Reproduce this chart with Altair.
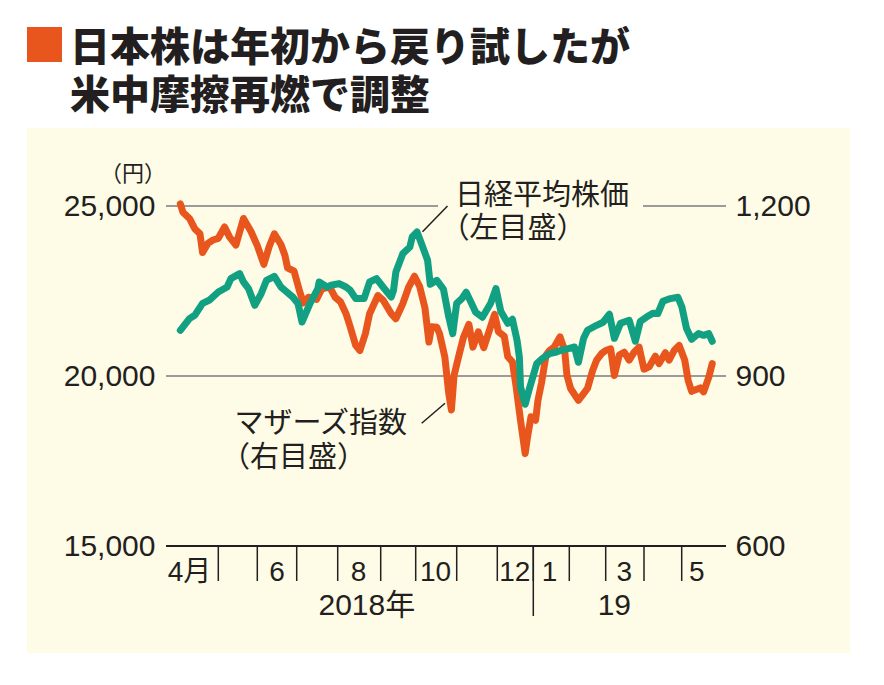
import altair as alt
import pandas as pd

# ---------------- data ----------------
nikkei_dates = [
    "2018-04-02", "2018-04-09", "2018-04-13", "2018-04-19", "2018-04-24", "2018-05-01",
    "2018-05-08", "2018-05-11", "2018-05-18", "2018-05-21", "2018-05-25", "2018-05-30",
    "2018-06-04", "2018-06-08", "2018-06-14", "2018-06-19", "2018-06-22", "2018-06-28",
    "2018-07-02", "2018-07-05", "2018-07-11", "2018-07-17", "2018-07-18", "2018-07-24",
    "2018-07-27", "2018-08-02", "2018-08-07", "2018-08-10", "2018-08-14", "2018-08-20",
    "2018-08-24", "2018-08-29", "2018-09-03", "2018-09-10", "2018-09-12", "2018-09-14",
    "2018-09-20", "2018-09-26", "2018-09-28", "2018-10-02", "2018-10-05", "2018-10-10",
    "2018-10-12", "2018-10-17", "2018-10-22", "2018-10-26", "2018-10-29", "2018-11-01",
    "2018-11-05", "2018-11-08", "2018-11-12", "2018-11-15", "2018-11-20", "2018-11-26",
    "2018-11-30", "2018-12-04", "2018-12-10", "2018-12-14", "2018-12-18", "2018-12-20",
    "2018-12-21", "2018-12-25", "2018-12-28", "2019-01-04", "2019-01-09", "2019-01-15",
    "2019-01-21", "2019-01-25", "2019-02-01", "2019-02-05", "2019-02-08", "2019-02-12",
    "2019-02-15", "2019-02-22", "2019-02-27", "2019-03-04", "2019-03-08", "2019-03-13",
    "2019-03-20", "2019-03-25", "2019-03-29", "2019-04-03", "2019-04-08", "2019-04-12",
    "2019-04-16", "2019-04-22", "2019-04-28", "2019-05-02", "2019-05-09", "2019-05-12",
    "2019-05-16", "2019-05-19", "2019-05-22", "2019-05-24",
]
nikkei_values = [
    21344, 21688, 21785, 22138, 22227, 22471,
    22618, 22865, 23012, 22765, 22571, 22080,
    22424, 22815, 22932, 22618, 22520, 22324,
    22130, 21588, 22130, 22571, 22765, 22618,
    22668, 22718, 22618, 22521, 22277, 22277,
    22765, 22865, 22618, 22324, 22521, 23059,
    23600, 23794, 24088, 24235, 23932, 23403,
    22697, 22815, 22550, 21735, 21247, 22138,
    22285, 22462, 22130, 21874, 21727, 22130,
    22571, 21903, 21550, 21668, 21050, 20559,
    19677, 19168, 19550, 20365, 20521, 20659,
    20706, 20756, 20815, 20853, 20403, 21109,
    21344, 21491, 21580, 21815, 21109, 21550,
    21638, 21021, 21609, 21735, 21844, 21835,
    22197, 22277, 22315, 22030, 21403, 21080,
    21247, 21197, 21247, 21021,
]

mothers_dates = [
    "2018-04-02", "2018-04-04", "2018-04-09", "2018-04-13", "2018-04-17", "2018-04-19",
    "2018-04-23", "2018-04-27", "2018-05-01", "2018-05-06", "2018-05-10", "2018-05-15",
    "2018-05-21", "2018-05-27", "2018-06-01", "2018-06-06", "2018-06-10", "2018-06-14",
    "2018-06-19", "2018-06-22", "2018-06-24", "2018-06-29", "2018-07-03", "2018-07-06",
    "2018-07-10", "2018-07-16", "2018-07-20", "2018-07-26", "2018-07-30", "2018-08-03",
    "2018-08-07", "2018-08-10", "2018-08-14", "2018-08-17", "2018-08-21", "2018-08-24",
    "2018-08-30", "2018-09-03", "2018-09-10", "2018-09-14", "2018-09-20", "2018-09-25",
    "2018-09-30", "2018-10-04", "2018-10-08", "2018-10-11", "2018-10-13", "2018-10-17",
    "2018-10-19", "2018-10-23", "2018-10-26", "2018-10-28", "2018-10-30", "2018-11-03",
    "2018-11-06", "2018-11-10", "2018-11-13", "2018-11-17", "2018-11-21", "2018-11-24",
    "2018-11-29", "2018-12-02", "2018-12-07", "2018-12-10", "2018-12-14", "2018-12-17",
    "2018-12-21", "2018-12-25", "2018-12-27", "2018-12-30", "2019-01-03", "2019-01-05",
    "2019-01-08", "2019-01-12", "2019-01-15", "2019-01-19", "2019-01-24", "2019-01-28",
    "2019-01-30", "2019-02-02", "2019-02-08", "2019-02-12", "2019-02-15", "2019-02-19",
    "2019-02-22", "2019-02-26", "2019-03-01", "2019-03-05", "2019-03-08", "2019-03-12",
    "2019-03-16", "2019-03-20", "2019-03-24", "2019-03-28", "2019-04-01", "2019-04-05",
    "2019-04-10", "2019-04-13", "2019-04-18", "2019-04-21", "2019-04-25", "2019-04-29",
    "2019-05-08", "2019-05-10", "2019-05-12", "2019-05-17", "2019-05-19", "2019-05-22",
    "2019-05-24",
]
mothers_values = [
    1204, 1189, 1178, 1160, 1151, 1118,
    1134, 1140, 1143, 1163, 1145, 1131,
    1178, 1155, 1130, 1097, 1128, 1151,
    1132, 1113, 1091, 1085, 1051, 1029,
    1039, 1035, 1054, 1057, 1039, 1031,
    1010, 987, 954, 945, 975, 1010,
    1042, 1034, 1010, 1001, 1028, 1057,
    1076, 1058, 1020, 960, 987, 986,
    975, 934, 869, 840, 901, 940,
    968, 991, 951, 978, 950, 972,
    1009, 978, 970, 934, 925, 884,
    822, 763, 792, 828, 822, 857,
    887, 937, 945, 951, 969, 945,
    901, 878, 857, 869, 878, 910,
    928, 940, 945, 948, 901, 937,
    942, 928, 942, 951, 912, 916,
    935, 922, 941, 928, 945, 954,
    928, 892, 873, 879, 872, 898,
    922,
]

month_label_dates = ["2018-04-09", "2018-06-16", "2018-08-16", "2018-10-16",
                     "2018-12-16", "2019-01-15", "2019-03-16", "2019-05-15"]
month_labels = ["4月", "6", "8", "10", "12", "1", "3", "5"]
year_label_dates = ["2018-08-22", "2019-03-08"]
year_labels = ["2018年", "19"]
tick_months = ["2018-05-01", "2018-06-01", "2018-07-01", "2018-08-01", "2018-09-01",
               "2018-10-01", "2018-11-01", "2018-12-01", "2019-01-01", "2019-02-01",
               "2019-03-01", "2019-04-01", "2019-05-01"]
year_break = ["2019-01-01"]
left_ticks = [15000, 20000, 25000]
right_ticks = [600, 900, 1200]
grid_values = [20000, 25000]

# the original's time axis runs on trading days: piecewise scale breakpoints
scale_breaks = ["2018-03-22", "2018-04-01", "2018-05-01", "2018-06-01", "2018-07-01",
                "2018-08-01", "2018-09-01", "2018-10-01", "2018-11-01", "2018-12-01",
                "2019-01-01", "2019-02-01", "2019-03-01", "2019-04-01", "2019-05-01",
                "2019-05-07", "2019-06-01"]
scale_pixels = [0, 13, 52.3, 91.3, 130.7, 171.7, 214.7, 249.7, 290.7, 331.3,
                367.3, 403.3, 439.7, 478, 515.7, 517, 560]

# ---------------- styles ----------------
ORANGE = "#E8561E"
GREEN = "#12A083"
PANEL = "#FEFBE6"
INK = "#231F20"
GRID = "#9B9B9B"
CJK = "Noto Sans CJK JP"
LATIN = "Liberation Sans, Noto Sans CJK JP"
W, H = 560, 340
TO_MS = "time(toDate(datum.date))"


def ms(s):
    return int(pd.Timestamp(s).value // 10**6)


xscale = alt.Scale(domain=[ms(s) for s in scale_breaks], range=scale_pixels,
                   nice=False, zero=False)


def xenc():
    return alt.X("t:Q", scale=xscale, axis=None)


one = pd.DataFrame({"k": [0]})

nikkei = pd.DataFrame({"date": nikkei_dates, "value": nikkei_values})
mothers = pd.DataFrame({"date": mothers_dates, "value": mothers_values})


def box(x, x2, y, y2, color):
    return alt.Chart(one).mark_rect(color=color).encode(
        x=alt.value(x), x2=alt.value(x2), y=alt.value(y), y2=alt.value(y2))


def label(txt, x, y, size, weight="normal", align="left", baseline="alphabetic", font=CJK):
    return alt.Chart(one).mark_text(
        text=txt, fontSize=size, fontWeight=weight, align=align, baseline=baseline,
        font=font, color=INK).encode(x=alt.value(x), y=alt.value(y))


def leader(x, y, x2, y2):
    return alt.Chart(one).mark_rule(color=INK, strokeWidth=1.5).encode(
        x=alt.value(x), y=alt.value(y), x2=alt.value(x2), y2=alt.value(y2))


panel = box(-139, 684, -78, 447, PANEL)
square = box(-139, -104, -179, -144, ORANGE)
title1 = label("日本株は年初から戻り試したが", -96, -145, 40, weight=900)
title2 = label("米中摩擦再燃で調整", -96, -96.7, 40, weight=900)
yen = label("（円）", 0, -25.5, 22, align="right")

grid = alt.Chart(pd.DataFrame({"v": grid_values})).mark_rule(
    color=GRID, strokeWidth=2).encode(
    y=alt.Y("v:Q", scale=alt.Scale(domain=[15000, 25000], nice=False), axis=None),
    x=alt.value(0), x2=alt.value(W))
mask = box(272, 477, -5, 5, PANEL)

orange_line = alt.Chart(mothers).transform_calculate(t=TO_MS).mark_line(
    color=ORANGE, strokeWidth=7, strokeJoin="round", strokeCap="round").encode(
    x=xenc(),
    y=alt.Y("value:Q", scale=alt.Scale(domain=[600, 1200], nice=False, zero=False),
            axis=alt.Axis(orient="right", values=right_ticks, format=",.0f", title=None,
                          grid=False, ticks=False, domain=False, labelPadding=9,
                          labelFont=LATIN, labelFontSize=30, labelColor=INK,
                          labelAlign="left", zindex=1)))

green_line = alt.Chart(nikkei).transform_calculate(t=TO_MS).mark_line(
    color=GREEN, strokeWidth=7, strokeJoin="round", strokeCap="round").encode(
    x=xenc(),
    y=alt.Y("value:Q", scale=alt.Scale(domain=[15000, 25000], nice=False, zero=False),
            axis=alt.Axis(orient="left", values=left_ticks, format=",.0f", title=None,
                          grid=False, ticks=False, domain=False, labelPadding=11,
                          labelFont=LATIN, labelFontSize=30, labelColor=INK, zindex=1)))

lead1 = leader(281.5, 0, 256.5, 25.7)
lead2 = leader(255.7, 217.3, 279, 197.3)
ann1a = label("日経平均株価", 289, -1, 29)
ann1b = label("（左目盛）", 274.6, 32, 29)
ann2a = label("マザーズ指数", 68.5, 227, 29)
ann2b = label("（右目盛）", 55, 260.5, 29)

# time axis: baseline, month ticks, year divider
baseline = alt.Chart(one).mark_rule(color=INK, strokeWidth=2).encode(
    x=alt.value(0), x2=alt.value(W), y=alt.value(H))

month_ticks = alt.Chart(pd.DataFrame({"date": tick_months})).transform_calculate(
    t=TO_MS).mark_rule(color=INK, strokeWidth=1.5).encode(
    x=xenc(), y=alt.value(H), y2=alt.value(H + 35))

long_tick = alt.Chart(pd.DataFrame({"date": year_break})).transform_calculate(
    t=TO_MS).mark_rule(color=INK, strokeWidth=1.5).encode(
    x=xenc(), y=alt.value(H), y2=alt.value(410))

month_text = alt.Chart(pd.DataFrame({"date": month_label_dates, "txt": month_labels})
                       ).transform_calculate(t=TO_MS).mark_text(
    fontSize=28, font=LATIN, color=INK, align="center", baseline="middle").encode(
    x=xenc(), y=alt.value(366.6), text="txt:N")

year_text = alt.Chart(pd.DataFrame({"date": year_label_dates, "txt": year_labels})
                      ).transform_calculate(t=TO_MS).mark_text(
    fontSize=30, font=LATIN, color=INK, align="center", baseline="middle").encode(
    x=xenc(), y=alt.value(399.5), text="txt:N")

chart = alt.layer(
    panel, square, title1, title2, yen, grid, mask, orange_line, green_line,
    lead1, lead2, ann1a, ann1b, ann2a, ann2b,
    baseline, month_ticks, long_tick, month_text, year_text,
).resolve_scale(y="independent").properties(
    width=W, height=H,
    autosize=alt.AutoSizeParams(type="none"),
    padding={"left": 158, "top": 198, "right": 140, "bottom": 120},
    background="white",
).configure_view(stroke=None)

chart.save("out.html", embed_options={"renderer": "svg", "actions": False})
